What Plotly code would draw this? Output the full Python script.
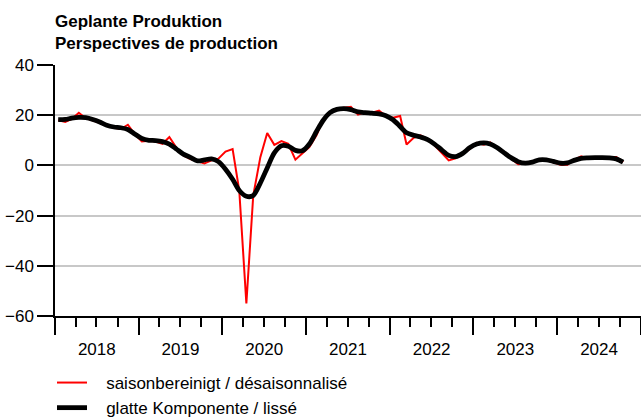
import pandas as pd
import plotly.graph_objects as go

# Monthly data, Jan 2018 - Oct 2024
months = pd.date_range("2018-01-01", periods=82, freq="MS") + pd.Timedelta(days=14)

saisonbereinigt = [
    18, 17.3, 18.5, 21, 18.8, 18, 17, 16, 15, 14.5, 16.2, 12.5,
    9.5, 9.8, 9.5, 8.6, 11.3, 7, 4, 2.5, 1.5, 0.8, 2, 2.7,
    5.5, 6.5, -10, -55, -12, 3.3, 12.9, 8.2, 9.7, 8.6, 2.3, 4.8,
    7.3, 12, 18, 21, 22.6, 23, 23.3, 20.2, 21.2, 21, 21.8, 19.7,
    19, 19.7, 8.3, 11, 12, 10.5, 8, 5, 2, 2.8, 4.5, 6.5,
    9, 8.2, 9.2, 7, 5, 2.5, 0.5, 0.7, 1.2, 2.3, 2, 1.2,
    0.3, 0.3, 2.2, 3.6, 2.7, 3, 3, 3, 3.3, 1.3,
]

glatt = [
    18.2, 18.3, 18.8, 19.1, 19, 18.3, 17.3, 16, 15.3, 15, 14.3, 12.5,
    10.7, 10, 9.9, 9.5, 8.5, 6.5, 4.5, 3.2, 1.8, 2.2, 2.6, 1.5,
    -1.5, -5.5, -10, -12.3, -12, -7, -1, 5, 7.8, 7.6, 6, 5.8,
    8.5, 13.5, 17.8, 21, 22.3, 22.6, 22.2, 21.3, 21, 20.8, 20.5, 19.8,
    18.2, 15.5, 13, 12, 11.3, 10.3, 8.5, 6.2, 4, 3.5, 4.8, 7,
    8.5, 9, 8.5, 7, 5, 3, 1.5, 0.9, 1.3, 2.2, 2.2, 1.6,
    0.9, 1.0, 2, 2.8, 3, 3.1, 3.1, 3, 2.6, 1.3,
]

name_sa = "saisonbereinigt / désaisonnalisé"
name_gl = "glatte Komponente / lissé"
title_text = "Geplante Produktion<br>Perspectives de production"
y_ticks = [-60, -40, -20, 0, 20, 40]

FONT = "Liberation Sans, Arial, sans-serif"
NB = "\u00a0\u00a0\u00a0"

fig = go.Figure()
fig.add_trace(go.Scatter(
    x=months, y=saisonbereinigt, mode="lines", name=NB + name_sa,
    line=dict(color="#ff0000", width=2),
))
fig.add_trace(go.Scatter(
    x=months, y=glatt, mode="lines", name=NB + name_gl,
    line=dict(color="#000000", width=4.8, shape="spline", smoothing=0.8),
))

fig.update_layout(
    width=641, height=418,
    margin=dict(l=55, r=0, t=65, b=102, autoexpand=False),
    paper_bgcolor="white", plot_bgcolor="white",
    font=dict(family=FONT, size=17, color="black"),
    title=dict(
        text="<b>" + title_text.replace("<br>", "</b><br><b>") + "</b>",
        x=55 / 641, xanchor="left", xref="container",
        y=1 - 27 / 418, yanchor="top", yref="container",
        font=dict(family=FONT, size=17, color="black"),
    ),
    showlegend=True,
    legend=dict(
        x=52 / 641, xanchor="left", xref="container",
        y=1 - 365 / 418, yanchor="top", yref="container",
        orientation="v", bgcolor="rgba(0,0,0,0)",
        font=dict(family=FONT, size=17, color="black"),
        tracegroupgap=0, itemwidth=30,
    ),
)

fig.update_xaxes(
    type="date",
    range=["2018-01-01", "2025-01-01"],
    tick0="2018-01-01", dtick="M12",
    ticklabelmode="period", tickformat="%Y", tickangle=0,
    ticks="outside", ticklen=17, tickwidth=1.5, tickcolor="black",
    minor=dict(dtick="M3", tick0="2018-01-01", ticks="outside", ticklen=9,
               tickwidth=1.5, tickcolor="black", showgrid=False),
    showline=True, linecolor="black", linewidth=2,
    showgrid=False, zeroline=False,
    tickfont=dict(family=FONT, size=17, color="black"),
)
fig.update_yaxes(
    range=[-60, 40], tickvals=y_ticks,
    ticks="outside", ticklen=16, tickwidth=1.5, tickcolor="black",
    showline=True, linecolor="black", linewidth=1.5,
    showgrid=True, gridcolor="#c8c8c8", gridwidth=1.5,
    zeroline=False,
    tickfont=dict(family=FONT, size=17, color="black"),
)

fig.write_html("out.html", config={"displayModeBar": False},
               post_script="document.body.style.margin='0';")
